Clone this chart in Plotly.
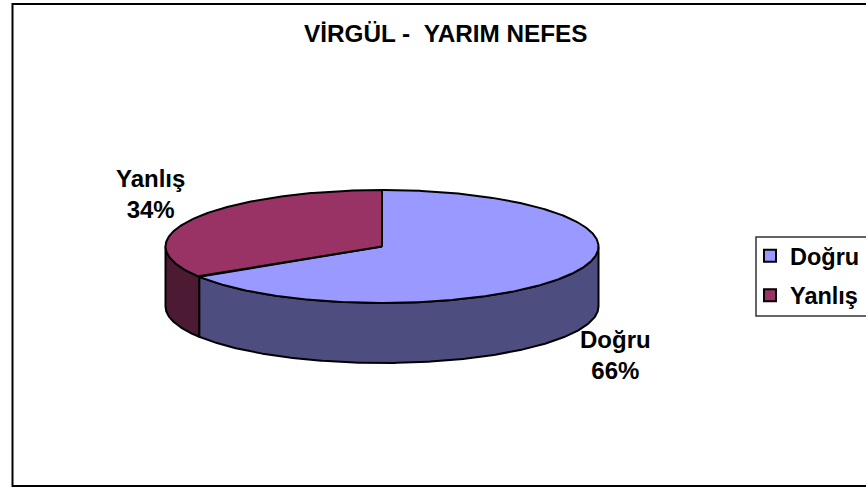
import numpy as np
import plotly.graph_objects as go

categories = ["Doğru", "Yanlış"]
values = [66, 34]
title = "VİRGÜL -\u00a0\u00a0YARIM NEFES"
top_colors = ["#9999FF", "#993366"]
side_colors = ["#4D4D80", "#4D1A33"]

CX, CY, RX, RY, DEPTH = 382, 246.5, 216.5, 56.5, 60
FONT = "Liberation Sans, Arial, sans-serif"


def rim(a0, a1, drop=0.0):
    """Points along the ellipse; angle in degrees clockwise from 12 o'clock."""
    a = np.radians(np.linspace(a0, a1, max(int(abs(a1 - a0)) * 2, 2)))
    return CX + RX * np.sin(a), CY - RY * np.cos(a) + drop


total = sum(values)
bounds = np.cumsum([0] + values) / total * 360
fig = go.Figure()

# Sides: only the part of each slice facing the viewer (90..270 degrees)
for i in range(len(values)):
    a0, a1 = max(bounds[i], 90), min(bounds[i + 1], 270)
    if a1 > a0:
        xt, yt = rim(a0, a1)
        xb, yb = rim(a1, a0, DEPTH)
        fig.add_trace(go.Scatter(
            x=np.r_[xt, xb, xt[0]], y=np.r_[yt, yb, yt[0]], mode="lines",
            fill="toself", fillcolor=side_colors[i],
            line=dict(color="black", width=2), showlegend=False, hoverinfo="skip"))

# Top faces
for i in range(len(values)):
    xt, yt = rim(bounds[i], bounds[i + 1])
    fig.add_trace(go.Scatter(
        x=np.r_[CX, xt, CX], y=np.r_[CY, yt, CY], mode="lines",
        fill="toself", fillcolor=top_colors[i],
        line=dict(color="black", width=2), showlegend=False, name=categories[i]))

# Legend keys
for i, c in enumerate(categories):
    fig.add_trace(go.Scatter(
        x=[None], y=[None], mode="markers", name=c, legendgroup=c,
        marker=dict(symbol="square", size=13, color=top_colors[i],
                    line=dict(color="black", width=1.5))))

label_pos = [(615, 355), (150, 194)]
annotations = [
    dict(x=label_pos[i][0], y=label_pos[i][1], xref="x", yref="y",
         text=f"{categories[i]}<br>{round(values[i] / total * 100)}%",
         showarrow=False, font=dict(family=FONT, size=24, color="black", weight="bold"))
    for i in range(len(values))
]
annotations.append(dict(
    x=446, y=33, xref="x", yref="y", text=title, showarrow=False,
    font=dict(family=FONT, size=24.3, color="black", weight="bold")))

fig.update_layout(
    width=866, height=487, autosize=False,
    margin=dict(l=0, r=0, t=0, b=0),
    paper_bgcolor="white", plot_bgcolor="white",
    xaxis=dict(range=[0, 866], visible=False, fixedrange=True),
    yaxis=dict(range=[487, 0], visible=False, fixedrange=True),
    annotations=annotations,
    shapes=[
        dict(type="rect", x0=12.5, y0=4, x1=880, y1=486, xref="x", yref="y",
             line=dict(color="black", width=2), layer="below"),
        dict(type="rect", x0=756, y0=237, x1=880, y1=316, xref="x", yref="y",
             line=dict(color="#333333", width=1.5), fillcolor="white", layer="below"),
    ],
    legend=dict(x=750 / 866, y=1 - 234 / 487, xanchor="left", yanchor="top",
                bgcolor="rgba(0,0,0,0)", borderwidth=0,
                font=dict(family=FONT, size=23.5, color="black", weight="bold"),
                itemsizing="constant", tracegroupgap=6),
)
fig.write_html("out.html", config={"displayModeBar": False},
               post_script="document.body.style.margin='0';")
